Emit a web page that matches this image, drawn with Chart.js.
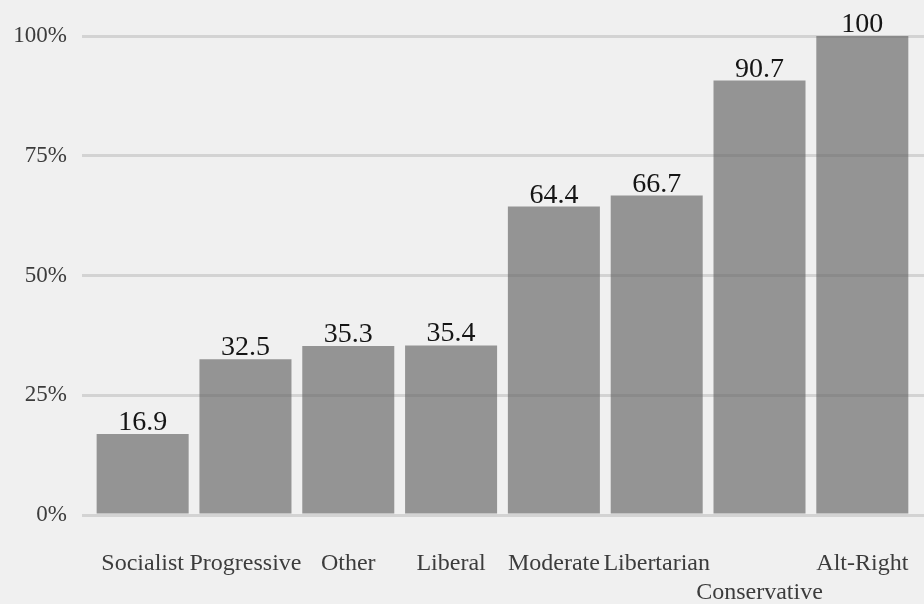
<!DOCTYPE html>
<html>
<head>
<meta charset="utf-8">
<script src="https://cdn.jsdelivr.net/npm/chart.js@4"></script>
<style>
  html, body { margin: 0; padding: 0; background: #f0f0f0; }
  #wrap { width: 924px; height: 604px; }
</style>
</head>
<body>
<div id="wrap"><canvas id="chart" width="924" height="604"></canvas></div>
<script>
  // Share of respondents per political identity (%)
  var GROUPS = ['Socialist', 'Progressive', 'Other', 'Liberal', 'Moderate', 'Libertarian', 'Conservative', 'Alt-Right'];
  var SHARES = [16.9, 32.5, 35.3, 35.4, 64.4, 66.7, 90.7, 100];
  var Y_TICKS = [0, 25, 50, 75, 100];

  var FONT = '"Liberation Serif", "DejaVu Serif", serif';

  // Value printed above each bar
  var valueLabels = {
    id: 'valueLabels',
    afterDraw: function (chart) {
      var ctx = chart.ctx;
      var meta = chart.getDatasetMeta(0);
      ctx.save();
      ctx.font = '28px ' + FONT;
      ctx.fillStyle = '#151515';
      ctx.textAlign = 'center';
      ctx.textBaseline = 'alphabetic';
      meta.data.forEach(function (bar, i) {
        ctx.fillText(String(SHARES[i]), bar.x, bar.y - 4);
      });
      ctx.restore();
    }
  };

  new Chart(document.getElementById('chart'), {
    type: 'bar',
    data: {
      datasets: [{
        data: SHARES.map(function (v, i) { return { x: i, y: v }; }),
        // translucent so the grid shows faintly through the bars
        backgroundColor: 'rgba(98,98,98,0.65)',
        borderWidth: 0,
        barPercentage: 0.895,
        categoryPercentage: 1
      }]
    },
    options: {
      responsive: false,
      animation: false,
      layout: { padding: { top: 36, left: 0, right: 0, bottom: 0 } },
      plugins: {
        legend: { display: false },
        tooltip: { enabled: false }
      },
      scales: {
        x: {
          type: 'linear',
          offset: false,
          min: -0.59,
          max: 7.6,
          grid: { display: false },
          border: { display: false },
          afterBuildTicks: function (scale) {
            scale.ticks = GROUPS.map(function (_, i) { return { value: i }; });
          },
          afterFit: function (scale) {
            scale.height = 89;
            // let the plot run to the canvas edge
            scale.paddingLeft = 0;
            scale.paddingRight = 0;
          },
          ticks: {
            autoSkip: false,
            maxRotation: 0,
            padding: 27,
            color: '#3c3c3c',
            font: { family: FONT, size: 24, lineHeight: 1.18 },
            callback: function (v) {
              var name = GROUPS[v];
              // long names drop to a second line so they don't collide
              return name.length > 11 ? ['', name] : name;
            }
          }
        },
        y: {
          min: 0,
          max: 100,
          border: { display: false },
          grid: { color: '#d3d3d3', lineWidth: 3, drawTicks: false },
          afterBuildTicks: function (scale) {
            scale.ticks = Y_TICKS.map(function (v) { return { value: v }; });
          },
          afterFit: function (scale) { scale.width = 82; },
          ticks: {
            padding: 15,
            color: '#3c3c3c',
            font: { family: FONT, size: 23 },
            callback: function (v) { return v + '%'; }
          }
        }
      }
    },
    plugins: [valueLabels]
  });
</script>
</body>
</html>
